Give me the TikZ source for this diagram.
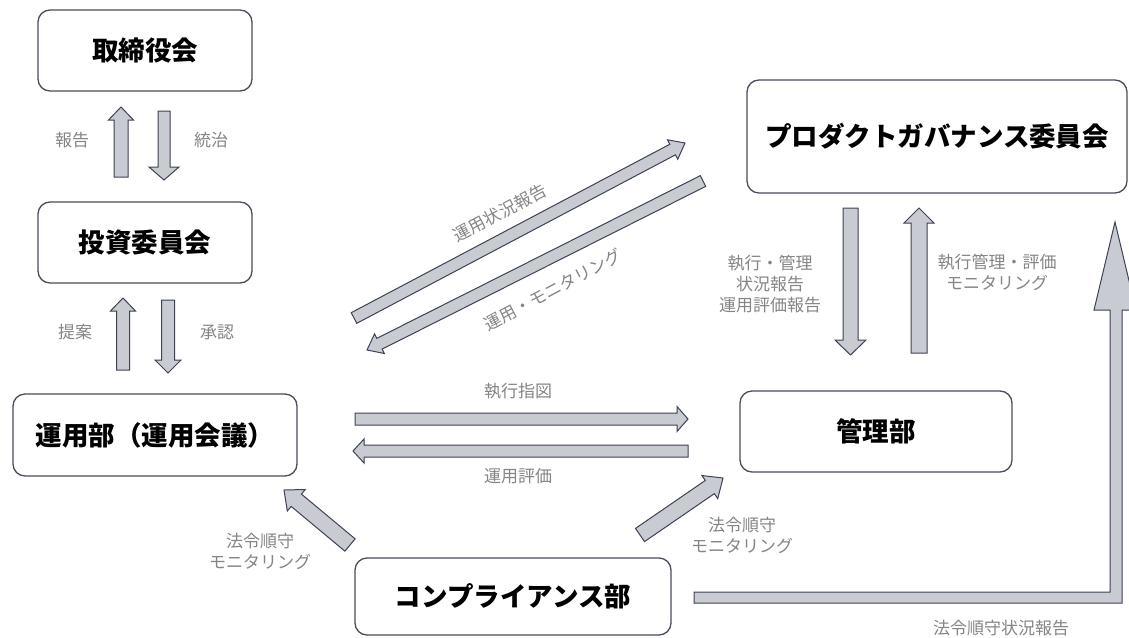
\documentclass[tikz,border=0pt]{standalone}
\usepackage{fontspec}
\setmainfont{Noto Sans CJK JP}
\usetikzlibrary{calc}
\definecolor{arrfill}{HTML}{C9CBD3}
\definecolor{arrline}{HTML}{3E4252}
\definecolor{boxline}{HTML}{4A4E5C}
\definecolor{lbl}{HTML}{858585}
\newcommand\barrow[5]{%
  \coordinate (bah) at ($(#2)!#5!(#1)$);
  \draw[barr] ($(#1)!#3!90:(#2)$) -- ($(bah)!#3!90:(#2)$) -- ($(bah)!#4!90:(#2)$) -- (#2)
    -- ($(bah)!#4!-90:(#2)$) -- ($(bah)!#3!-90:(#2)$) -- ($(#1)!#3!-90:(#2)$) -- cycle;
}
\begin{document}
\begin{tikzpicture}[x=1pt,y=-1pt,
  box/.style={draw=boxline, line width=1.3pt, rounded corners=12pt, fill=white,
    font=\fontsize{26.5}{30}\selectfont\bfseries, inner sep=0pt},
  lab/.style={text=lbl, font=\fontsize{17}{21}\selectfont, align=center, inner sep=0pt},
  barr/.style={fill=arrfill, draw=arrline, line width=1pt, line join=miter}]
\useasboundingbox (0,0) rectangle (1129,637);
\clip (0,0) rectangle (1129,637);
\fill[white] (0,0) rectangle (1129,637);

% boxes
\node[box, minimum width=214pt, minimum height=81pt] (board) at (145,50.5) {取締役会};
\node[box, minimum width=214pt, minimum height=81pt] (invest) at (145,242.5) {投資委員会};
\node[box, minimum width=284pt, minimum height=82pt] (unyo) at (155,435) {運用部（運用会議）};
\node[box, minimum width=380pt, minimum height=113pt] (pgc) at (937,136.5) {プロダクトガバナンス委員会};
\node[box, minimum width=272pt, minimum height=81pt] (kanri) at (876,431.5) {管理部};
\node[box, minimum width=316pt, minimum height=77pt] (comp) at (513,596.5) {コンプライアンス部};

% arrow end points
\coordinate (a1s) at (121,177); \coordinate (a1e) at (121,107);
\coordinate (a2s) at (164,111); \coordinate (a2e) at (164,180);
\coordinate (a3s) at (123,370); \coordinate (a3e) at (123,298);
\coordinate (a4s) at (168,300); \coordinate (a4e) at (168,373);
\coordinate (a5s) at (354,318); \coordinate (a5e) at (685,143);
\coordinate (a6s) at (703,181); \coordinate (a6e) at (367,350);
\coordinate (a7s) at (355,419); \coordinate (a7e) at (688,419);
\coordinate (a8s) at (688,451); \coordinate (a8e) at (353,451);
\coordinate (a9s) at (850.5,208); \coordinate (a9e) at (850.5,355);
\coordinate (a10s) at (919,353); \coordinate (a10e) at (919,208);
\coordinate (a11s) at (350,545); \coordinate (a11e) at (284,490);
\coordinate (a12s) at (640,535); \coordinate (a12e) at (723,478);

\barrow{a1s}{a1e}{7pt}{12.5pt}{13pt}
\barrow{a2s}{a2e}{6pt}{15pt}{13pt}
\barrow{a3s}{a3e}{6.5pt}{12.5pt}{13pt}
\barrow{a4s}{a4e}{6.5pt}{13pt}{13pt}
\barrow{a5s}{a5e}{6pt}{11pt}{14pt}
\barrow{a6s}{a6e}{6pt}{11pt}{14pt}
\barrow{a7s}{a7e}{6pt}{12.5pt}{11pt}
\barrow{a8s}{a8e}{6pt}{12pt}{11pt}
\barrow{a9s}{a9e}{7.5pt}{15.5pt}{15pt}
\barrow{a10s}{a10e}{8pt}{15pt}{15pt}
\barrow{a11s}{a11e}{8pt}{14pt}{16pt}
\barrow{a12s}{a12e}{8pt}{14pt}{16pt}

% large L-shaped arrow from compliance to product governance
\draw[barr] (694,592) -- (1110,592) -- (1110,310) -- (1094,310) -- (1115,222)
  -- (1136,310) -- (1122,310) -- (1122,603) -- (694,603) -- cycle;

% labels
\node[lab] (l1) at (72,140) {報告};
\node[lab] (l2) at (211,140) {統治};
\node[lab] (l3) at (75,332) {提案};
\node[lab] (l4) at (217,332) {承認};
\node[lab, rotate=28] (l5) at (500,213) {運用状況報告};
\node[lab, rotate=28] (l6) at (553,290) {運用・モニタリング};
\node[lab] (l7) at (770,284) {執行・管理\\状況報告\\運用評価報告};
\node[lab] (l8) at (997,272) {執行管理・評価\\モニタリング};
\node[lab] (l9) at (518,391) {執行指図};
\node[lab] (l10) at (518,476) {運用評価};
\node[lab] (l11) at (260,551) {法令順守\\モニタリング};
\node[lab] (l12) at (742,535) {法令順守\\モニタリング};
\node[lab] (l13) at (1001,628) {法令順守状況報告};
\end{tikzpicture}
\end{document}
